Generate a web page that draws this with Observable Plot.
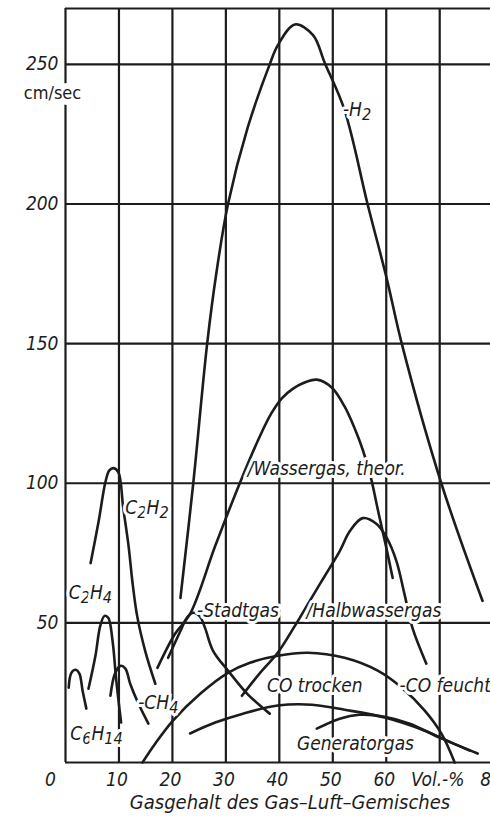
<!DOCTYPE html>
<html>
<head>
<meta charset="utf-8">
<script src="https://cdn.jsdelivr.net/npm/d3@7"></script>
<script src="https://cdn.jsdelivr.net/npm/@observablehq/plot@0.6"></script>
<style>
  html, body { margin: 0; padding: 0; background: #fff; overflow: hidden; }
  #chart svg { display: block; }
  #chart svg text { font-stretch: condensed; }
</style>
</head>
<body>
<div id="chart"></div>
<script>
// ---------- data ----------
const xGrid = [0, 10, 20, 30, 40, 50, 60, 70];
const yGrid = [0, 50, 100, 150, 200, 250, 270];
const yTickValues = [50, 100, 150, 200, 250];
const xTickValues = [10, 20, 30, 40, 50, 60, 70, 80];
const xTickLabels = ["10", "20", "30", "40", "50", "60", "Vol.-%", "80"];

// Flame speed curves: [gas content %, cm/sec]
const h2 = [[21.5,58.9],[23.9,100],[26.5,150],[28.2,175],[30.4,200],[34.1,227.5],[38.2,250],[39.7,256.8],[42.9,264.3],[46.3,260.5],[48.5,250.5],[52.2,233.6],[56.5,200],[60.1,173.2],[62.9,150],[70.3,100],[78,57.9]];
const wassergas = [[17.2,33.9],[20.5,46.1],[23.3,53.2],[28,77.5],[32.6,100],[36.4,117],[38.5,125],[40.5,130.5],[42.5,133.8],[44.4,135.8],[47,137.1],[49.8,134.3],[52.2,127.5],[54.1,119.6],[55.6,112],[57,103],[58.6,89],[60,77],[61.2,66.1]];
const halbwassergas = [[33,23.9],[36.4,32.1],[39.7,39.3],[42.9,48.9],[45.7,57.9],[48.5,66.8],[51.3,75.7],[53.2,82.9],[55.6,87.5],[58.2,85.4],[60.1,80.4],[61.9,72.1],[63.4,60.4],[64.9,48.2],[67.5,35.4]];
const stadtgas = [[19.2,37.5],[21.5,47.1],[22.8,52.1],[23.9,53.6],[25.2,52.1],[26.1,48.2],[27.6,40],[30.4,32.9],[34,24.6],[38.2,17.5]];
const coFeucht = [[14.4,0],[16.8,6.8],[20.1,15],[25.2,24.6],[30.4,32.1],[34.5,35.7],[39.7,38.2],[45.3,39.3],[52.2,37.5],[58.4,32.9],[62.9,26.8],[67.2,18.6],[70.3,10.4],[72.8,0]];
const coTrocken = [[23.3,10.4],[28,14.3],[33.2,17.5],[39.7,20.4],[46.1,20.7],[52.2,18.9],[59.7,16.1],[67.2,11.4],[72.2,7.1],[77.1,3.2]];
const generatorgas = [[47,12.1],[51.3,15.7],[55,17.1],[59.7,16.4],[64.4,13.9],[70,8.9],[75.6,4.3]];
const c2h2 = [[4.7,71.4],[6.2,86.4],[7.5,100.7],[8.2,104.6],[9,105.4],[9.9,103.9],[10.8,91.1],[11.8,77.5],[12.5,65],[13.4,52.5],[14.9,40],[16.8,28.2]];
const c2h4 = [[4.3,26.4],[5.6,38.2],[6.5,48.9],[7.3,52.5],[8,51.8],[8.8,43.6],[9.5,29.3],[10.4,14.3]];
const ch4 = [[8.4,23.9],[9.3,32.1],[10.3,34.6],[11.2,33.6],[12.1,28.2],[13.4,22.1],[15.5,13.9]];
const c6h14 = [[0.6,26.8],[1.1,32.1],[1.9,33.2],[2.6,31.8],[3.2,25.7],[3.9,19.3]];

// Curve labels
const labelText = ["-H₂", "/Wassergas, theor.", "/Halbwassergas", "-Stadtgas", "CO trocken", "-CO feucht", "Generatorgas", "C₂H₂", "C₂H₄", "-CH₄", "C₆H₁₄"];
const labelX = [51.9, 34.1, 45.1, 24.6, 37.7, 62.5, 43.3, 11.2, 0.6, 13.6, 0.9];
const labelY = [233.6, 105, 54.3, 54.3, 27.5, 27.5, 6.8, 91, 60.7, 21.4, 10.4];

// ---------- build ----------
const seriesList = [
  ["H2", h2], ["Wassergas", wassergas], ["Halbwassergas", halbwassergas],
  ["Stadtgas", stadtgas], ["CO feucht", coFeucht], ["CO trocken", coTrocken],
  ["Generatorgas", generatorgas], ["C2H2", c2h2], ["C2H4", c2h4],
  ["CH4", ch4], ["C6H14", c6h14]
];
const curves = seriesList.flatMap(([name, pts]) => pts.map(([x, y]) => ({name, x, y})));
const labels = labelText.map((t, i) => ({t, x: labelX[i], y: labelY[i]}));

const ink = "#1c1c1c";
const font = "'DejaVu Sans Condensed', 'DejaVu Sans', sans-serif";

const plot = Plot.plot({
  width: 490,
  height: 828,
  marginLeft: 65,
  marginRight: 0,
  marginTop: 8,
  marginBottom: 66,
  x: {domain: [0, 79.5], axis: null},
  y: {domain: [0, 270], axis: null},
  style: {background: "#fff", overflow: "visible"},
  marks: [
    Plot.ruleY(yGrid, {stroke: ink, strokeWidth: 2.2}),
    Plot.ruleX(xGrid, {stroke: ink, strokeWidth: 2.2}),
    Plot.line(curves, {x: "x", y: "y", z: "name", stroke: ink, strokeWidth: 2.6, curve: "catmull-rom"}),
    Plot.text(labels, {x: "x", y: "y", text: "t", textAnchor: "start", fill: ink,
      stroke: "white", strokeWidth: 6, fontFamily: font, fontStyle: "italic", fontSize: 19}),
    // y tick labels
    Plot.text(yTickValues, {x: 0, y: d => d, text: d => String(d), textAnchor: "end", dx: -7,
      fill: ink, fontFamily: font, fontStyle: "italic", fontSize: 19}),
    Plot.text(["cm/sec"], {x: 0, y: 250, dx: -13, dy: 29, text: d => d, fill: ink,
      stroke: "white", strokeWidth: 12, fontFamily: font, fontSize: 18}),
    // x tick labels
    Plot.text(xTickValues, {x: d => d, y: 0, dy: 17, dx: -2,
      text: (d, i) => xTickLabels[i], fill: ink, fontFamily: font, fontStyle: "italic", fontSize: 19}),
    Plot.text(["0"], {x: 0, y: 0, dy: 17, dx: -15, text: d => d, fill: ink,
      fontFamily: font, fontStyle: "italic", fontSize: 19}),
    Plot.text(["Gasgehalt des Gas–Luft–Gemisches"], {frameAnchor: "bottom", dy: 46, dx: 12,
      text: d => d, fill: ink, fontFamily: font, fontStyle: "italic", fontSize: 20})
  ]
});

// render chemical subscripts as lowered, slightly smaller digits
const subMap = {"₀":"0","₁":"1","₂":"2","₃":"3","₄":"4","₅":"5","₆":"6","₇":"7","₈":"8","₉":"9"};
plot.querySelectorAll("text").forEach(el => {
  const s = el.textContent;
  if (!/[₀-₉]/.test(s)) return;
  el.textContent = "";
  const ns = "http://www.w3.org/2000/svg";
  let buf = "", sub = false;
  const flush = () => {
    if (!buf) return;
    const ts = document.createElementNS(ns, "tspan");
    ts.textContent = buf;
    if (sub) { ts.setAttribute("baseline-shift", "-22%"); ts.setAttribute("font-size", "0.85em"); }
    el.appendChild(ts);
    buf = "";
  };
  for (const ch of s) {
    const isSub = ch in subMap;
    if (isSub !== sub) { flush(); sub = isSub; }
    buf += isSub ? subMap[ch] : ch;
  }
  flush();
});

document.getElementById("chart").appendChild(plot);
</script>
</body>
</html>
